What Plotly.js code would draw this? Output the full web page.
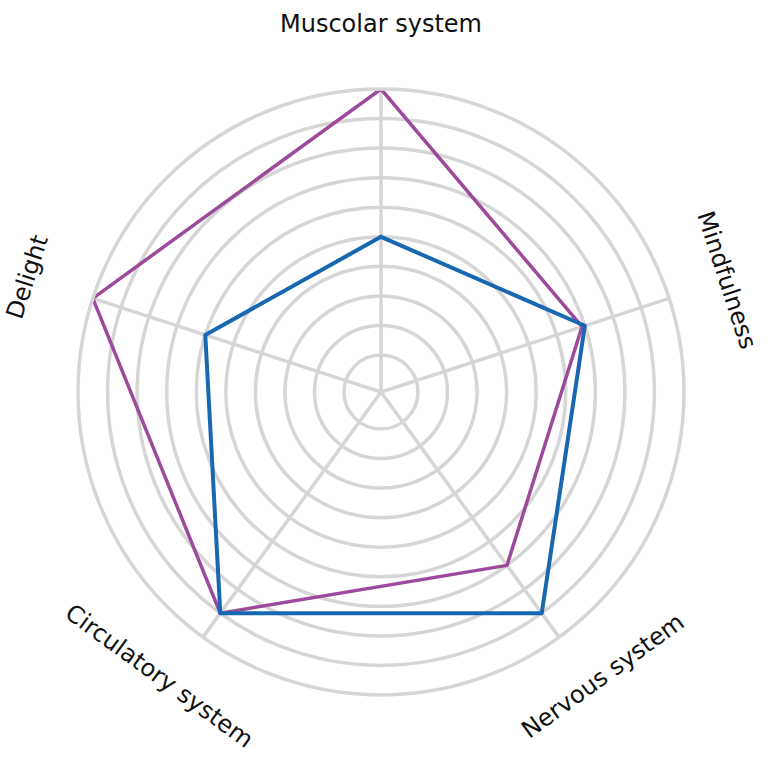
<!DOCTYPE html>
<html>
<head>
<meta charset="utf-8">
<script src="https://cdn.plot.ly/plotly-3.0.1.min.js"></script>
<style>
  html, body { margin: 0; padding: 0; background: #ffffff; }
  #chart { width: 768px; height: 761px; }
  #chart .scatterlayer path.js-line { stroke-linejoin: round !important; stroke-linecap: round !important; }
</style>
</head>
<body>
<div id="chart"></div>
<script>
// ---- data ----
const categories = ["Muscolar system", "Mindfulness", "Nervous system", "Circulatory system", "Delight"];
const seriesPurple = [10, 6.9, 7, 9, 10];
const seriesBlue = [5, 7, 9, 9, 6];
const gridValues = [1, 2, 3, 4, 5, 6, 7, 8, 9];

// ---- style ----
const purple = "#9c4b9b";
const blue = "#1767b1";
const gridColor = "#d6d6d6";
const W = 768, H = 761;
const margin = {l: 78, r: 84, t: 89, b: 66};
const labelFont = {family: "DejaVu Sans, sans-serif", size: 24, color: "#111111"};
// label placement tweaks (px beyond outer ring, degrees of angular shift)
const labelOffsets = [65, 61, 57, 57, 69];
const labelShift = [0, 0, -2, 2, 0];

function closed(arr) { return arr.concat([arr[0]]); }

const traces = [
  {
    type: "scatterpolar",
    r: closed(seriesPurple),
    theta: closed(categories),
    mode: "lines",
    line: {color: purple, width: 3.5},
    hoverinfo: "skip"
  },
  {
    type: "scatterpolar",
    r: closed(seriesBlue),
    theta: closed(categories),
    mode: "lines",
    line: {color: blue, width: 4},
    hoverinfo: "skip"
  }
];

// rotated labels placed around the polar frame
const plotW = W - margin.l - margin.r;
const plotH = H - margin.t - margin.b;
const annotations = categories.map((c, i) => {
  const deg = i * 360 / categories.length; // clockwise from top
  let rot = deg;
  if (deg > 90 && deg < 270) rot = deg - 180;
  else if (deg >= 270) rot = deg - 360;
  const rad = (deg + labelShift[i]) * Math.PI / 180;
  const rPx = plotW / 2 + labelOffsets[i];
  return {
    text: c,
    xref: "paper", yref: "paper",
    x: 0.5 + rPx * Math.sin(rad) / plotW,
    y: 0.5 + rPx * Math.cos(rad) / plotH,
    xanchor: "center", yanchor: "middle",
    showarrow: false,
    textangle: rot,
    font: labelFont
  };
});

const layout = {
  width: W, height: H,
  margin: margin,
  paper_bgcolor: "#ffffff",
  plot_bgcolor: "#ffffff",
  showlegend: false,
  polar: {
    bgcolor: "#ffffff",
    domain: {x: [0, 1], y: [0, 1]},
    radialaxis: {
      range: [-0.25, 10],
      tickvals: gridValues,
      showticklabels: false,
      ticks: "",
      showline: false,
      gridcolor: gridColor,
      gridwidth: 3.5
    },
    angularaxis: {
      direction: "clockwise",
      rotation: 90,
      showticklabels: false,
      ticks: "",
      showline: true,
      linecolor: gridColor,
      linewidth: 3.5,
      gridcolor: gridColor,
      gridwidth: 3.5
    }
  },
  annotations: annotations
};

Plotly.newPlot("chart", traces, layout, {displayModeBar: false, staticPlot: true});
</script>
</body>
</html>
